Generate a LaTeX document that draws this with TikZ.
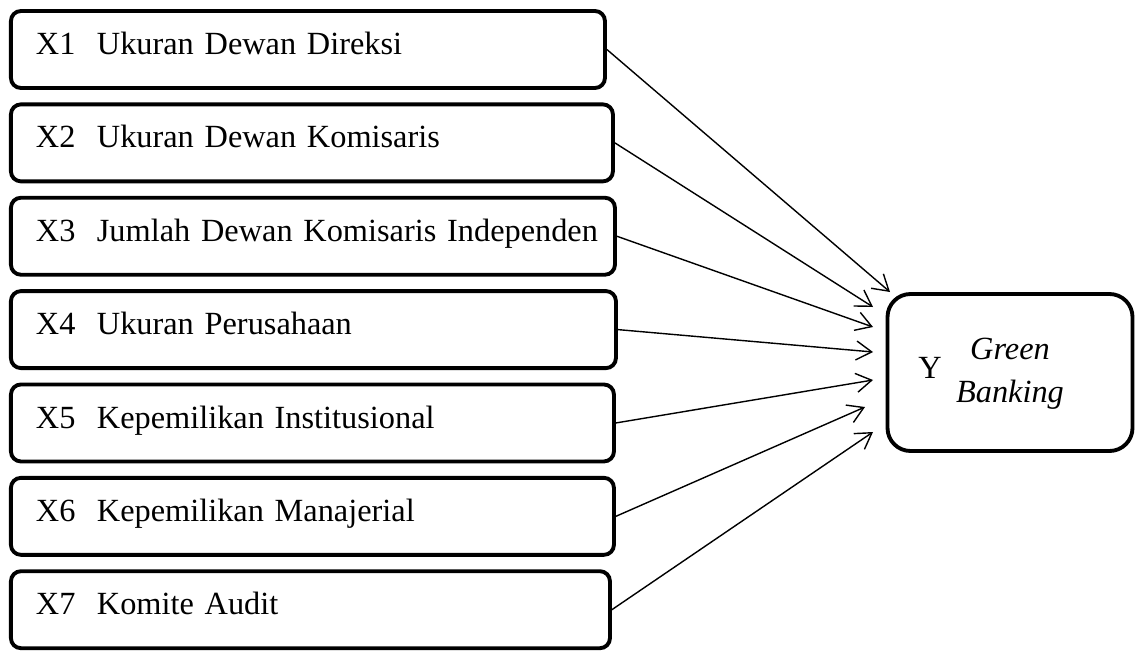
\documentclass[tikz,border=0pt]{standalone}
\usepackage{fontspec}
\setmainfont{Liberation Serif}
\usetikzlibrary{arrows.meta,positioning}

\newcommand{\xitem}[2]{\noindent\makebox[\linewidth][l]{\makebox[1.22cm][l]{#1}#2}}

\begin{document}
\begin{tikzpicture}[
    node distance=0.25cm,
    font=\fontsize{18.4pt}{24.4pt}\selectfont,
    xbox/.style={draw, line width=2.2pt, rounded corners=0.2cm, text width=#1, minimum height=1.54cm, inner xsep=0.5cm, text height=1.5ex, text depth=.25ex},
    ybox/.style={draw, line width=2.2pt, rounded corners=0.46cm, minimum width=4.9cm, minimum height=3.14cm},
    >={Straight Barb[length=3.1mm,width=3.8mm]}
  ]
    \useasboundingbox (0,0) rectangle (22.76,-13.02);

    \node[xbox=10.88cm, anchor=west] (x1) at (0.18,-0.99) {\xitem{X1}{Ukuran Dewan Direksi}};
    \node[xbox=11.04cm, below=of x1.south west, anchor=north west] (x2) {\xitem{X2}{Ukuran Dewan Komisaris}};
    \node[xbox=11.08cm, below=of x2.south west, anchor=north west] (x3) {\xitem{X3}{Jumlah Dewan Komisaris Independen}};
    \node[xbox=11.1cm, below=of x3.south west, anchor=north west] (x4) {\xitem{X4}{Ukuran Perusahaan}};
    \node[xbox=11.06cm, below=of x4.south west, anchor=north west] (x5) {\xitem{X5}{Kepemilikan Institusional}};
    \node[xbox=11.06cm, below=of x5.south west, anchor=north west] (x6) {\xitem{X6}{Kepemilikan Manajerial}};
    \node[xbox=10.98cm, below=of x6.south west, anchor=north west] (x7) {\xitem{X7}{Komite Audit}};

    \node[ybox] (y) at (20.2,-7.45) {\raisebox{-0.08cm}{\begin{tabular}{@{}c@{}}\textit{Green}\\\textit{Banking}\end{tabular}}};
    \node[inner sep=0pt] (ylabel) at ([xshift=-1.6cm,yshift=0.1cm]y.center) {Y};

    % arrow tips in front of Y
    \coordinate (t1) at (17.8,-5.84);
    \coordinate (t2) at (17.46,-6.14);
    \coordinate (t3) at (17.46,-6.54);
    \coordinate (t4) at (17.46,-7.04);
    \coordinate (t5) at (17.46,-7.6);
    \coordinate (t6) at (17.3,-8.14);
    \coordinate (t7) at (17.46,-8.64);

    \draw[->, line width=0.8pt] (x1.east) -- (t1);
    \draw[->, line width=0.8pt] (x2.east) -- (t2);
    \draw[->, line width=0.8pt] (x3.east) -- (t3);
    \draw[->, line width=0.8pt] (x4.east) -- (t4);
    \draw[->, line width=0.8pt] (x5.east) -- (t5);
    \draw[->, line width=0.8pt] (x6.east) -- (t6);
    \draw[->, line width=0.8pt] (x7.east) -- (t7);
  \end{tikzpicture}
\end{document}
